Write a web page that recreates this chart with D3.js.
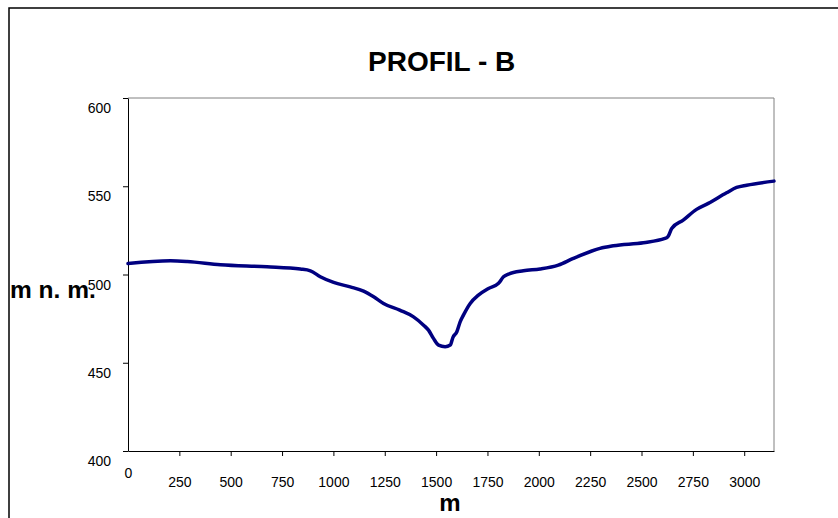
<!DOCTYPE html>
<html><head><meta charset="utf-8">
<script src="https://cdn.jsdelivr.net/npm/d3@7"></script>
<style>body{margin:0;background:#fff}svg{display:block}text{font-family:Arial,"Liberation Sans",sans-serif}</style>
</head><body>
<svg id="c" width="838" height="518"></svg>
<script>
const title = "PROFIL - B";
const xLabel = "m";
const yLabel = "m n. m.";
const distance = [0,207,288,450,677,839,888,936,1001,1082,1147,1196,1244,1323,1390,1439,1463,1487,1512,1544,1569,1582,1601,1617,1633,1666,1706,1755,1804,1828,1852,1925,2006,2095,2168,2258,2298,2363,2509,2614,2630,2647,2703,2768,2825,2914,2963,3012,3145];
const elevation = [506.2,507.8,507.4,505.5,504.4,503.1,502.1,498.7,495.5,493.0,490.6,487.4,483.6,479.8,476.0,471.3,468.5,463.8,460.0,459.1,460.0,464.4,467.6,473.2,477.0,483.6,488.3,492.1,495.0,498.7,500.2,502.1,503.1,505.3,509.1,513.3,514.8,516.3,518.0,520.4,521.7,526.1,530.8,536.9,540.3,546.3,549.3,550.6,552.9];
const xTicks = [0,250,500,750,1000,1250,1500,1750,2000,2250,2500,2750,3000];
const yTicks = [400,450,500,550,600];
const xDomain = [0,3145];
const yDomain = [400,600];

const svg = d3.select("#c");
const L=128,R=774,T=98,B=451;
const x = d3.scaleLinear().domain(xDomain).range([L,R]);
const y = d3.scaleLinear().domain(yDomain).range([B,T]);

svg.append("rect").attr("x",9).attr("y",8).attr("width",840).attr("height",520)
  .attr("fill","none").attr("stroke","#000").attr("stroke-width",1.5);

// plot frame
svg.append("path").attr("d",`M${L},${T}H${R}V${B}`).attr("fill","none").attr("stroke","#808080").attr("stroke-width",1);

// y axis
const ya = svg.append("g").attr("transform",`translate(${L},0)`)
  .call(d3.axisLeft(y).tickValues(yTicks).tickSize(5).tickSizeOuter(0).tickFormat(d3.format("d")));
ya.select(".domain").attr("stroke","#000");
ya.selectAll("text").attr("font-size",14).attr("dy",null).attr("x",-17).attr("y",14.5).attr("fill","#000");

// x axis
const xa = svg.append("g").attr("transform",`translate(0,${B})`)
  .call(d3.axisBottom(x).tickValues(xTicks).tickSize(5).tickSizeOuter(0).tickFormat(d3.format("d")));
xa.select(".domain").attr("stroke","#000");
xa.selectAll(".tick line").filter(d=>d===0).remove();
xa.selectAll("text").attr("font-size",14).attr("dy",null).attr("y",d=>d===0?27.3:35.7).attr("fill","#000");

// line
const line = d3.line().x((d,i)=>x(distance[i])).y(d=>y(d)).curve(d3.curveMonotoneX);
svg.append("path").datum(elevation).attr("d",line).attr("fill","none")
  .attr("stroke","#000080").attr("stroke-width",3.5).attr("stroke-linejoin","round").attr("stroke-linecap","round");

svg.append("text").attr("x",441.7).attr("y",71).attr("text-anchor","middle")
  .attr("font-size",28).attr("font-weight","bold").text(title);
svg.append("text").attr("x",450).attr("y",510.5).attr("text-anchor","middle")
  .attr("font-size",24).attr("font-weight","bold").text(xLabel);
svg.append("text").attr("x",10).attr("y",298).attr("text-anchor","start")
  .attr("font-size",24.5).attr("font-weight","bold").text(yLabel);
</script>
</body></html>
